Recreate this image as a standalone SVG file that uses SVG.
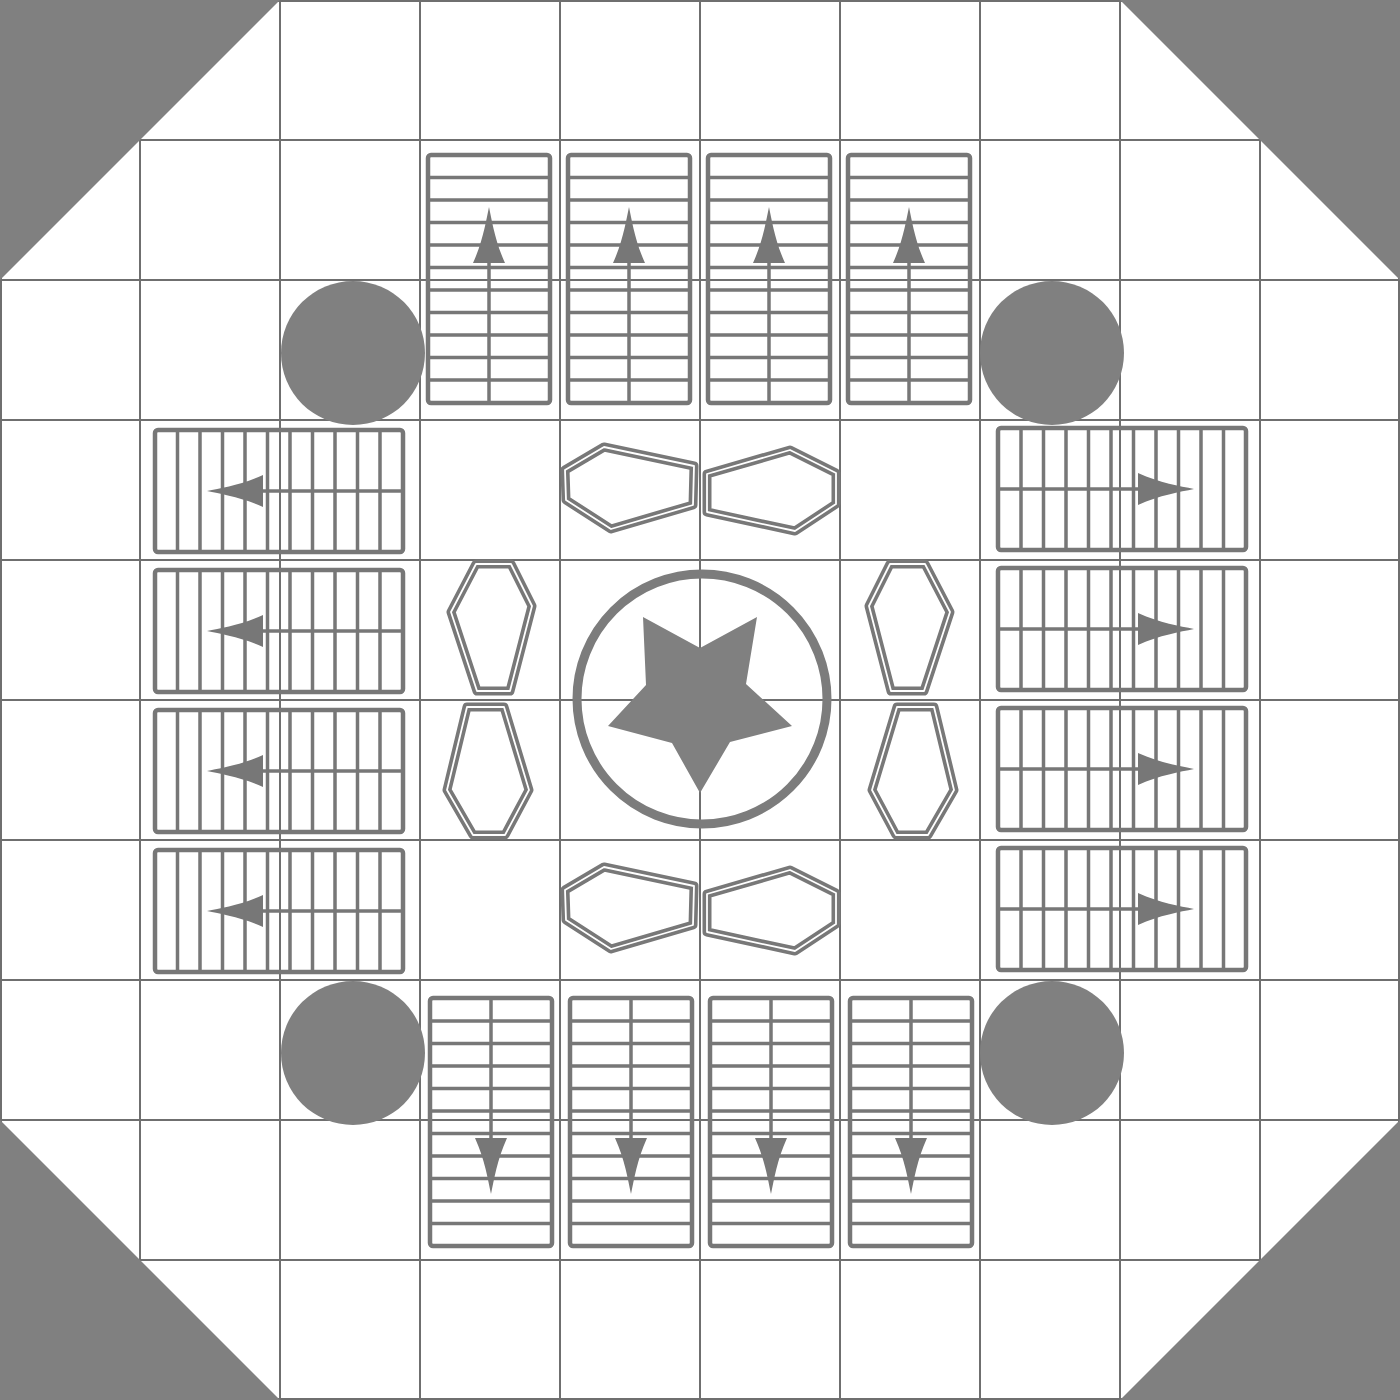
<svg xmlns="http://www.w3.org/2000/svg" xmlns:xlink="http://www.w3.org/1999/xlink" width="1400" height="1400" viewBox="0 0 1400 1400">
<style>
.grid{stroke:#6f6f6f;stroke-width:2;fill:none}
.solid{fill:#808080;stroke:none}
.tbl{fill:none;stroke:#777777;stroke-width:4.5}
.tl{stroke:#777777;stroke-width:3.5;fill:none}
.arw{fill:#777777;stroke:none}
.hexO{fill:none;stroke:#787878;stroke-width:9;stroke-linejoin:round}
.hexI{fill:none;stroke:#ffffff;stroke-width:1.8;stroke-linejoin:round}
.ring{fill:none;stroke:#7c7c7c;stroke-width:9}
</style>
<defs>
<g id="table">
<rect class="tbl" x="0" y="0" width="122" height="248" rx="3"/>
<path class="tl" d="M2,22.5H120M2,45H120M2,67.5H120M2,90H120M2,112.5H120M2,135H120M2,157.5H120M2,180H120M2,202.5H120M2,225H120"/>
<path class="tl" d="M61,105V246"/>
<path class="arw" d="M61,52 C64,66 67,86 77,108 L45,108 C55,86 58,66 61,52 Z"/>
</g>
<polygon id="hA" points="565,470 604,447 694,466 693,505 611,529 566,500"/>
<polygon id="hB" points="707,474 790,450 836,473 836,504 795,531 707,512"/>
<polygon id="hC" points="476,564 511,564 532,606 510,691 477,691 451,612"/>
<polygon id="hD" points="467,707 504,707 529,790 505,835 473,835 447,790"/>
</defs>
<rect x="0" y="0" width="1400" height="1400" fill="#ffffff"/>
<g id="grid" class="grid">
<rect x="1" y="1" width="1398" height="1398"/>
<path d="M140,0V1400M280,0V1400M420,0V1400M560,0V1400M700,0V1400M840,0V1400M980,0V1400M1120,0V1400M1260,0V1400"/>
<path d="M0,140H1400M0,280H1400M0,420H1400M0,560H1400M0,700H1400M0,840H1400M0,980H1400M0,1120H1400M0,1260H1400"/>
</g>
<g id="corners" class="solid">
<polygon points="0,0 280,0 0,280"/>
<polygon points="1400,0 1120,0 1400,280"/>
<polygon points="0,1400 280,1400 0,1120"/>
<polygon points="1400,1400 1120,1400 1400,1120"/>
</g>
<g id="pillars" class="solid">
<circle cx="353" cy="353" r="72"/>
<circle cx="1052" cy="353" r="72"/>
<circle cx="353" cy="1053" r="72"/>
<circle cx="1052" cy="1053" r="72"/>
</g>
<g id="tables-top">
<use xlink:href="#table" transform="translate(428,155)"/>
<use xlink:href="#table" transform="translate(568,155)"/>
<use xlink:href="#table" transform="translate(708,155)"/>
<use xlink:href="#table" transform="translate(848,155)"/>
</g>
<g id="tables-bottom">
<use xlink:href="#table" transform="translate(430,1246) scale(1,-1)"/>
<use xlink:href="#table" transform="translate(570,1246) scale(1,-1)"/>
<use xlink:href="#table" transform="translate(710,1246) scale(1,-1)"/>
<use xlink:href="#table" transform="translate(850,1246) scale(1,-1)"/>
</g>
<g id="tables-left">
<use xlink:href="#table" transform="translate(155,552) rotate(-90)"/>
<use xlink:href="#table" transform="translate(155,692) rotate(-90)"/>
<use xlink:href="#table" transform="translate(155,832) rotate(-90)"/>
<use xlink:href="#table" transform="translate(155,972) rotate(-90)"/>
</g>
<g id="tables-right">
<use xlink:href="#table" transform="translate(1246,428) rotate(90)"/>
<use xlink:href="#table" transform="translate(1246,568) rotate(90)"/>
<use xlink:href="#table" transform="translate(1246,708) rotate(90)"/>
<use xlink:href="#table" transform="translate(1246,848) rotate(90)"/>
</g>
<g id="benches">
<use xlink:href="#hA" class="hexO"/><use xlink:href="#hA" class="hexI"/>
<use xlink:href="#hB" class="hexO"/><use xlink:href="#hB" class="hexI"/>
<use xlink:href="#hA" class="hexO" transform="translate(0,420)"/><use xlink:href="#hA" class="hexI" transform="translate(0,420)"/>
<use xlink:href="#hB" class="hexO" transform="translate(0,420)"/><use xlink:href="#hB" class="hexI" transform="translate(0,420)"/>
<use xlink:href="#hC" class="hexO"/><use xlink:href="#hC" class="hexI"/>
<use xlink:href="#hD" class="hexO"/><use xlink:href="#hD" class="hexI"/>
<use xlink:href="#hC" class="hexO" transform="translate(1401,0) scale(-1,1)"/><use xlink:href="#hC" class="hexI" transform="translate(1401,0) scale(-1,1)"/>
<use xlink:href="#hD" class="hexO" transform="translate(1401,0) scale(-1,1)"/><use xlink:href="#hD" class="hexI" transform="translate(1401,0) scale(-1,1)"/>
</g>
<g id="center">
<circle class="ring" cx="702" cy="699" r="125"/>
<polygon class="solid" points="700,793 672,743 608,726 646,685 643,617 700,648 757,617 746,684 792,726 730,742"/>
</g>
</svg>
